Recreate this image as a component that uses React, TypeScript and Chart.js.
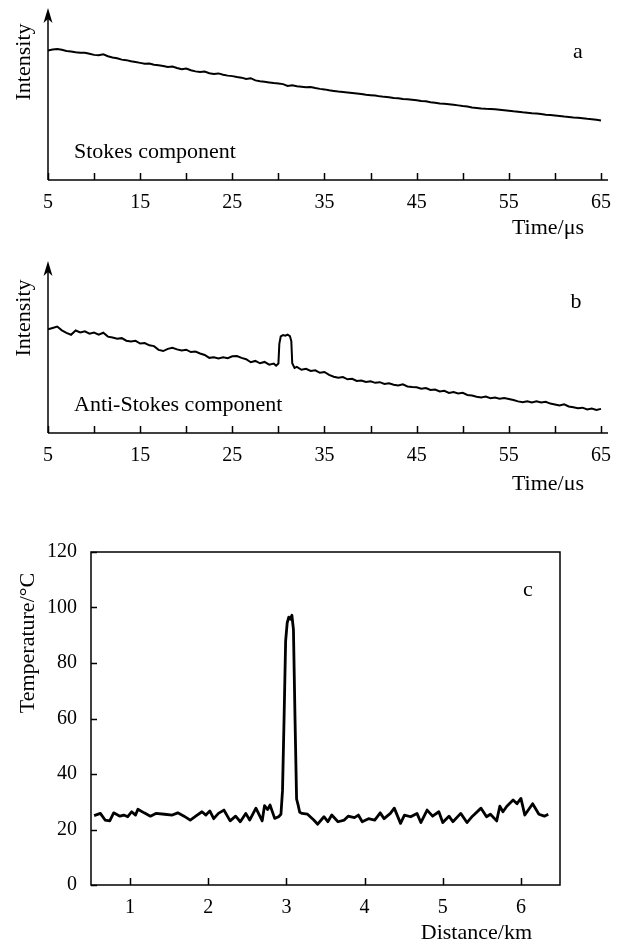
import React, { useEffect, useRef } from "react";
import { Chart, registerables } from "chart.js";

Chart.register(...registerables);

const FONT = '"Liberation Serif", "Times New Roman", Times, serif';

// ---------- Panel a: Stokes component ----------
const stokesTimeUs = [
  5, 5.5, 6, 6.5, 7, 7.5, 8, 8.5, 9, 9.5, 10, 10.5, 11, 11.5, 12, 12.5, 13, 13.5, 14, 14.5,
  15, 15.5, 16, 16.5, 17, 17.5, 18, 18.5, 19, 19.5, 20, 20.5, 21, 21.5, 22, 22.5, 23, 23.5, 24, 24.5,
  25, 25.5, 26, 26.5, 27, 27.5, 28, 28.5, 29, 29.5, 30, 30.5, 31, 31.5, 32, 32.5, 33, 33.5, 34, 34.5,
  35, 35.5, 36, 36.5, 37, 37.5, 38, 38.5, 39, 39.5, 40, 40.5, 41, 41.5, 42, 42.5, 43, 43.5, 44, 44.5,
  45, 45.5, 46, 46.5, 47, 47.5, 48, 48.5, 49, 49.5, 50, 50.5, 51, 51.5, 52, 52.5, 53, 53.5, 54, 54.5,
  55, 55.5, 56, 56.5, 57, 57.5, 58, 58.5, 59, 59.5, 60, 60.5, 61, 61.5, 62, 62.5, 63, 63.5, 64, 64.5, 65,
];
const stokesIntensity = [
  76.2, 76.8, 77.1, 76.6, 75.9, 75.6, 75.2, 74.9, 74.8, 74.3, 73.6, 73.4, 73.9, 72.8, 72.1, 71.6, 70.8, 70.5, 69.8, 69.4,
  68.9, 68.4, 68.5, 67.8, 67.5, 67.1, 66.5, 66.8, 65.9, 65.2, 65.6, 64.6, 63.9, 63.5, 63.8, 62.8, 62.4, 62.7, 61.9, 61.4,
  61.1, 60.6, 60.2, 59.4, 59.9, 58.6, 58.1, 57.8, 57.4, 57.0, 56.8, 56.4, 55.3, 55.7, 55.2, 54.9, 54.6, 54.7, 54.1, 53.6,
  53.3, 52.8, 52.4, 52.0, 51.8, 51.5, 51.2, 50.9, 50.6, 50.1, 49.9, 49.7, 49.2, 48.9, 48.7, 48.3, 48.1, 47.6, 47.5, 47.2,
  46.9, 46.5, 46.3, 45.7, 45.5, 45.0, 44.8, 44.5, 44.2, 43.9, 43.5, 43.2, 42.7, 42.4, 42.1, 41.9, 41.8, 41.6, 41.3, 41.0,
  40.7, 40.4, 40.2, 39.8, 39.6, 39.2, 39.1, 38.8, 38.4, 38.2, 37.9, 37.6, 37.3, 37.1, 36.8, 36.6, 36.3, 36.0, 35.8, 35.5, 35.0,
];

// ---------- Panel b: Anti-Stokes component ----------
const antiStokesTimeUs = [
  5, 5.5, 6, 6.5, 7, 7.5, 8, 8.5, 9, 9.5, 10, 10.5, 11, 11.5, 12, 12.5, 13, 13.5, 14, 14.5,
  15, 15.5, 16, 16.5, 17, 17.5, 18, 18.5, 19, 19.5, 20, 20.5, 21, 21.5, 22, 22.5, 23, 23.5, 24, 24.5,
  25, 25.5, 26, 26.5, 27, 27.5, 28, 28.5, 29, 29.5,
  29.75, 30, 30.1, 30.25, 30.5, 30.75, 31, 31.25, 31.4, 31.5, 31.75, 32,
  32.5, 33, 33.5, 34, 34.5, 35, 35.5, 36, 36.5, 37, 37.5, 38, 38.5, 39, 39.5, 40, 40.5, 41, 41.5, 42,
  42.5, 43, 43.5, 44, 44.5, 45, 45.5, 46, 46.5, 47, 47.5, 48, 48.5, 49, 49.5, 50, 50.5, 51, 51.5, 52,
  52.5, 53, 53.5, 54, 54.5, 55, 55.5, 56, 56.5, 57, 57.5, 58, 58.5, 59, 59.5, 60, 60.5, 61, 61.5, 62,
  62.5, 63, 63.5, 64, 64.5, 65,
];
const antiStokesIntensity = [
  61.0, 61.8, 62.6, 60.4, 58.9, 57.8, 60.3, 59.2, 59.8, 58.4, 59.1, 57.9, 59.0, 56.7, 56.2, 55.4, 55.8, 54.3, 53.8, 54.2,
  52.6, 52.9, 51.6, 51.1, 48.9, 48.2, 49.5, 50.1, 49.2, 48.6, 49.0, 47.6, 47.9, 46.8, 45.9, 44.2, 44.6, 43.8, 44.5, 44.0,
  45.1, 45.3, 44.2, 43.4, 41.6, 42.4, 41.0, 41.8, 40.2, 40.8,
  39.6, 40.9, 52.5, 56.8, 57.6, 57.2, 57.9, 57.0, 54.0, 41.0, 38.3, 38.9,
  37.2, 37.8, 36.5, 36.9, 35.4, 35.9, 34.2, 33.1, 32.5, 32.9, 31.6, 31.9, 30.6, 30.9, 30.0, 30.4, 29.5, 29.9, 28.9, 29.3,
  28.4, 28.0, 28.6, 27.4, 27.0, 26.9, 26.1, 26.4, 25.3, 25.6, 24.4, 24.8, 23.6, 24.1, 23.3, 23.6, 22.4, 22.0, 21.3, 20.9,
  21.4, 20.5, 20.9, 20.2, 20.6, 20.0, 19.4, 18.6, 18.1, 18.7, 18.0, 18.6, 17.9, 18.4, 17.3, 16.8, 16.2, 16.9, 15.6, 15.1,
  14.5, 14.9, 13.8, 14.4, 13.6, 14.2,
];

const timeTicks = [5, 10, 15, 20, 25, 30, 35, 40, 45, 50, 55, 60, 65];
const timeTickLabels = [5, 15, 25, 35, 45, 55, 65];

// ---------- Panel c: Temperature along fibre ----------
const distanceKm = [
  0.54, 0.62, 0.68, 0.74, 0.79, 0.87, 0.92, 0.97, 1.02, 1.07, 1.1, 1.18, 1.26, 1.33, 1.44, 1.54, 1.61, 1.69, 1.77, 1.84,
  1.92, 1.97, 2.02, 2.07, 2.13, 2.2, 2.28, 2.35, 2.41, 2.48, 2.53, 2.61, 2.69, 2.72, 2.76, 2.79, 2.85, 2.9, 2.93,
  2.95, 2.97, 2.99, 3.01, 3.03, 3.05, 3.07, 3.09, 3.11, 3.13, 3.15, 3.17, 3.2,
  3.27, 3.35, 3.4, 3.48, 3.53, 3.58, 3.66, 3.74, 3.79, 3.87, 3.92, 3.97, 4.05, 4.13, 4.2, 4.25, 4.33, 4.38,
  4.46, 4.51, 4.59, 4.67, 4.72, 4.8, 4.87, 4.95, 5.0, 5.08, 5.13, 5.23, 5.31, 5.38, 5.49, 5.56, 5.61, 5.69,
  5.73, 5.77, 5.82, 5.9, 5.95, 6.0, 6.05, 6.15, 6.23, 6.3, 6.35,
];
const temperatureC = [
  25.0, 25.8, 23.4, 23.1, 26.0, 24.8, 25.2, 24.6, 26.4, 25.2, 27.3, 26.0, 24.8, 25.8, 25.5, 25.2, 26.0, 24.8, 23.4, 24.8,
  26.4, 25.2, 26.7, 23.9, 25.8, 27.0, 23.1, 24.8, 22.8, 25.8, 23.4, 27.7, 23.1, 28.6, 27.2, 28.8, 24.0, 24.6, 25.5,
  34.0, 60.0, 88.0, 94.5, 96.5, 95.8, 97.2, 92.0, 60.0, 31.0, 28.8, 26.2, 25.8,
  25.5, 23.4, 21.9, 24.6, 22.8, 25.2, 22.8, 23.4, 24.8, 24.3, 25.2, 22.8, 23.9, 23.4, 26.0, 23.9, 25.8, 27.7,
  22.2, 25.2, 24.6, 25.8, 22.5, 27.0, 24.8, 26.4, 22.5, 24.8, 22.8, 25.8, 22.5, 24.8, 27.7, 24.6, 25.5, 23.1,
  28.4, 26.4, 28.4, 30.6, 29.3, 31.2, 25.2, 29.3, 25.5, 24.8, 25.5,
];
const distanceTicks = [1, 2, 3, 4, 5, 6];
const temperatureTicks = [0, 20, 40, 60, 80, 100, 120];

type TextItem = {
  text: string;
  x: number;
  y: number;
  align: CanvasTextAlign;
  rotate?: boolean;
};

function decorPlugin(kind: "arrow" | "box", texts: TextItem[], drawYTicks: boolean) {
  return {
    id: "decor-" + kind,
    afterDraw(chart: any) {
      const ctx: CanvasRenderingContext2D = chart.ctx;
      const area = chart.chartArea;
      const xs = chart.scales.x;
      ctx.save();
      ctx.strokeStyle = "#000";
      ctx.fillStyle = "#000";
      ctx.lineWidth = 1.5;
      ctx.lineCap = "butt";
      if (kind === "arrow") {
        // x axis
        ctx.beginPath();
        ctx.moveTo(area.left, area.bottom);
        ctx.lineTo(area.right, area.bottom);
        ctx.stroke();
        // y axis with arrow
        ctx.beginPath();
        ctx.moveTo(area.left, area.bottom);
        ctx.lineTo(area.left, area.top + 8);
        ctx.stroke();
        ctx.beginPath();
        ctx.moveTo(area.left, area.top - 2);
        ctx.lineTo(area.left - 4.5, area.top + 13);
        ctx.lineTo(area.left, area.top + 9);
        ctx.lineTo(area.left + 4.5, area.top + 13);
        ctx.closePath();
        ctx.fill();
      } else {
        ctx.strokeRect(area.left, area.top, area.right - area.left, area.bottom - area.top);
      }
      // inward x ticks
      ctx.beginPath();
      for (const t of xs.ticks) {
        const px = Math.round(xs.getPixelForValue(t.value)) + 0.5;
        ctx.moveTo(px, area.bottom);
        ctx.lineTo(px, area.bottom - 7);
      }
      ctx.stroke();
      if (drawYTicks) {
        const ys = chart.scales.y;
        ctx.beginPath();
        for (const t of ys.ticks) {
          const py = Math.round(ys.getPixelForValue(t.value)) + 0.5;
          ctx.moveTo(area.left, py);
          ctx.lineTo(area.left + 6, py);
        }
        ctx.stroke();
      }
      // texts
      ctx.font = `22px ${FONT}`;
      ctx.textBaseline = "middle";
      for (const it of texts) {
        ctx.save();
        ctx.translate(it.x, it.y);
        if (it.rotate) ctx.rotate(-Math.PI / 2);
        ctx.textAlign = it.align;
        ctx.fillText(it.text, 0, 0);
        ctx.restore();
      }
      ctx.restore();
    },
  };
}

function intensityConfig(
  times: number[],
  values: number[],
  padTop: number,
  axisHeight: number,
  texts: TextItem[]
): any {
  return {
    type: "line",
    data: {
      datasets: [
        {
          data: times.map((t, i) => ({ x: t, y: values[i] })),
          borderColor: "#000",
          borderWidth: 2,
          pointRadius: 0,
          tension: 0,
          fill: false,
        },
      ],
    },
    options: {
      animation: false,
      responsive: false,
      devicePixelRatio: 1,
      layout: { padding: { left: 48, right: 16, top: padTop, bottom: 0 } },
      plugins: { legend: { display: false }, tooltip: { enabled: false } },
      scales: {
        x: {
          type: "linear",
          min: 5,
          max: 65.76,
          grid: { display: false, drawTicks: false },
          border: { display: false },
          afterBuildTicks: (s: any) => {
            s.ticks = timeTicks.map((v) => ({ value: v }));
          },
          afterFit: (s: any) => {
            s.height = axisHeight;
          },
          ticks: {
            autoSkip: false,
            maxRotation: 0,
            padding: 11,
            color: "#000",
            font: { family: FONT, size: 20 },
            callback: (v: any) => (timeTickLabels.includes(Number(v)) ? String(v) : ""),
          },
        },
        y: { display: false, min: 0, max: 100 },
      },
    },
    plugins: [decorPlugin("arrow", texts, false)],
  };
}

export default function App() {
  const refA = useRef<HTMLCanvasElement>(null);
  const refB = useRef<HTMLCanvasElement>(null);
  const refC = useRef<HTMLCanvasElement>(null);

  useEffect(() => {
    const charts: Chart[] = [];
    if (refA.current) {
      charts.push(
        new Chart(
          refA.current,
          intensityConfig(stokesTimeUs, stokesIntensity, 10, 60, [
            { text: "Intensity", x: 24, y: 62, align: "center", rotate: true },
            { text: "a", x: 578, y: 52, align: "center" },
            { text: "Stokes component", x: 74, y: 152, align: "left" },
            { text: "Time/μs", x: 584, y: 228, align: "right" },
          ])
        )
      );
    }
    if (refB.current) {
      charts.push(
        new Chart(
          refB.current,
          intensityConfig(antiStokesTimeUs, antiStokesIntensity, 23, 57, [
            { text: "Intensity", x: 24, y: 78, align: "center", rotate: true },
            { text: "b", x: 576, y: 62, align: "center" },
            { text: "Anti-Stokes component", x: 74, y: 165, align: "left" },
            { text: "Time/μs", x: 584, y: 244, align: "right" },
          ])
        )
      );
    }
    if (refC.current) {
      charts.push(
        new Chart(refC.current, {
          type: "line",
          data: {
            datasets: [
              {
                data: distanceKm.map((d, i) => ({ x: d, y: temperatureC[i] })),
                borderColor: "#000",
                borderWidth: 2.8,
                pointRadius: 0,
                tension: 0,
                fill: false,
                borderJoinStyle: "round",
              } as any,
            ],
          },
          options: {
            animation: false,
            responsive: false,
            devicePixelRatio: 1,
            layout: { padding: { left: 0, right: 64, top: 62, bottom: 0 } },
            plugins: { legend: { display: false }, tooltip: { enabled: false } },
            scales: {
              x: {
                type: "linear",
                min: 0.5,
                max: 6.5,
                grid: { display: false, drawTicks: false },
                border: { display: false },
                afterBuildTicks: (s: any) => {
                  s.ticks = distanceTicks.map((v) => ({ value: v }));
                },
                afterFit: (s: any) => {
                  s.height = 58;
                },
                ticks: {
                  autoSkip: false,
                  maxRotation: 0,
                  padding: 11,
                  color: "#000",
                  font: { family: FONT, size: 20 },
                },
              },
              y: {
                type: "linear",
                min: 0,
                max: 120,
                grid: { display: false, drawTicks: false },
                border: { display: false },
                afterBuildTicks: (s: any) => {
                  s.ticks = temperatureTicks.map((v) => ({ value: v }));
                },
                afterFit: (s: any) => {
                  s.width = 91;
                },
                ticks: {
                  autoSkip: false,
                  padding: 14,
                  color: "#000",
                  font: { family: FONT, size: 20 },
                },
              },
            },
          } as any,
          plugins: [
            decorPlugin(
              "box",
              [
                { text: "Temperature/°C", x: 28, y: 153, align: "center", rotate: true },
                { text: "c", x: 528, y: 100, align: "center" },
                { text: "Distance/km", x: 532, y: 443, align: "right" },
              ],
              true
            ),
          ],
        })
      );
    }
    return () => {
      charts.forEach((c) => c.destroy());
    };
  }, []);

  const canvasStyle = (top: number, h: number): React.CSSProperties => ({
    position: "absolute",
    left: 0,
    top,
    width: 624,
    height: h,
    display: "block",
  });

  return (
    <div style={{ position: "absolute", left: 0, top: 0, width: 624, height: 943, background: "#fff" }}>
      <canvas ref={refA} width={624} height={240} style={canvasStyle(0, 240)} />
      <canvas ref={refB} width={624} height={250} style={canvasStyle(240, 250)} />
      <canvas ref={refC} width={624} height={453} style={canvasStyle(490, 453)} />
    </div>
  );
}
